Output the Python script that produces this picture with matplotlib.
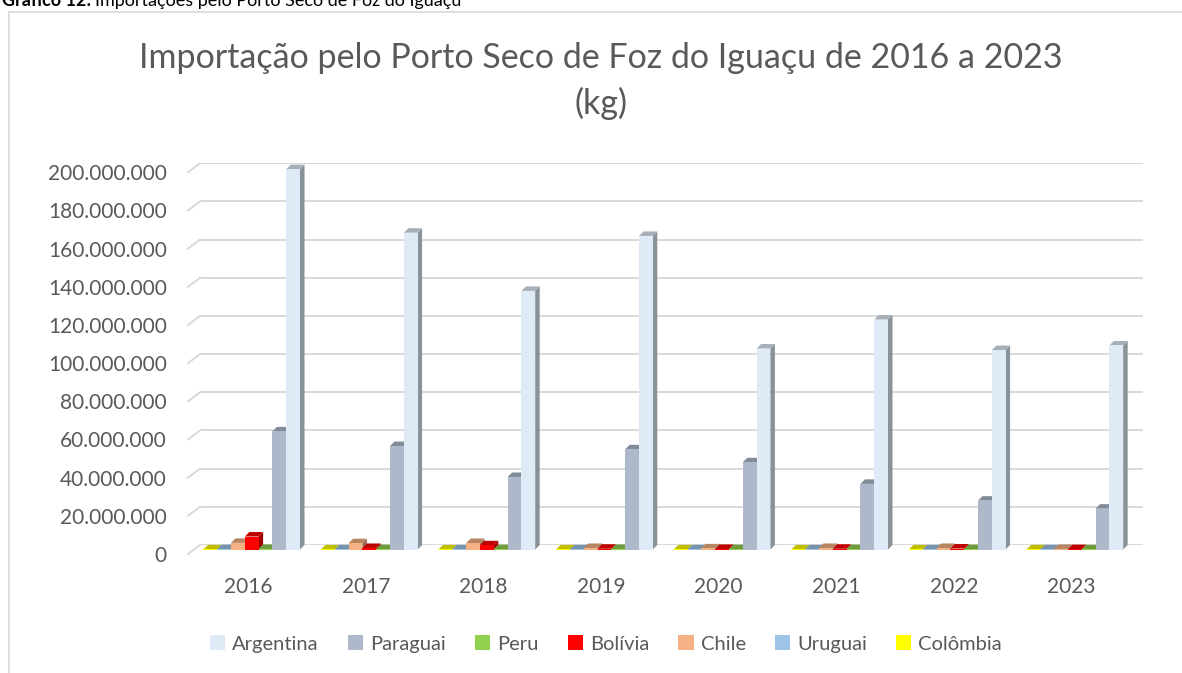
import numpy as np
import matplotlib
matplotlib.use("Agg")
import matplotlib.pyplot as plt
from matplotlib.patches import Patch, Rectangle
from matplotlib.ticker import FuncFormatter
from matplotlib.transforms import ScaledTranslation

plt.rcParams['font.family'] = ['Lato', 'DejaVu Sans']

# Data (kg)
anos = ['2016', '2017', '2018', '2019', '2020', '2021', '2022', '2023']
argentina = [199.3e6, 166.0e6, 135.5e6, 164.3e6, 105.3e6, 120.5e6, 104.5e6, 106.9e6]
paraguai = [61.9e6, 54.2e6, 38.0e6, 52.5e6, 45.7e6, 34.4e6, 25.6e6, 21.4e6]
peru = [0.3e6, 0.2e6, 0.2e6, 0.3e6, 0.2e6, 0.2e6, 0.2e6, 0.1e6]
bolivia = [6.8e6, 0.8e6, 2.2e6, 0.4e6, 0.3e6, 0.4e6, 0.5e6, 0.2e6]
chile = [3.5e6, 3.3e6, 3.4e6, 0.8e6, 0.6e6, 0.8e6, 0.8e6, 0.3e6]
uruguai = [0.2e6, 0.1e6, 0.1e6, 0.1e6, 0.1e6, 0.1e6, 0.1e6, 0.1e6]
colombia = [0.05e6] * 8

legenda = ['Argentina', 'Paraguai', 'Peru', 'Bolívia', 'Chile', 'Uruguai', 'Colômbia']
series = [argentina, paraguai, peru, bolivia, chile, uruguai, colombia]
cores = ['#DEEBF7', '#ADB9CA', '#92D050', '#FF0000', '#F4B183', '#9DC3E6', '#FFFF00']

# order of bars inside a group, left to right
ordem = [6, 5, 4, 3, 2, 1, 0]

W, H = 1182, 673
fig = plt.figure(figsize=(W / 100, H / 100), dpi=100)
fig.patch.set_facecolor('white')

# outer frame of the chart (runs past the right and bottom edges)
fig.add_artist(Rectangle((9 / W, -0.2), 1.2, 1.2 - 12 / H, transform=fig.transFigure,
                         fill=False, edgecolor='#D9D9D9', linewidth=1.2))

# partially cut caption at the very top
cap1 = fig.text(2 / W, 1 - 6 / H, 'Gráfico 12:', fontsize=13, fontweight='bold',
                color='black', ha='left', va='baseline')
fig.canvas.draw()
bb = cap1.get_window_extent()
fig.text((bb.x1 + 4) / W, 1 - 6 / H, 'Importações pelo Porto Seco de Foz do Iguaçu',
         fontsize=13, color='black', ha='left', va='baseline')

ax = fig.add_axes([200 / W, (H - 545) / H, 943 / W, 381.7 / H])
ax.set_xlim(-0.411, 7.608)
ax.set_ylim(0, 200e6)

grid = '#D9D9D9'
texto = '#595959'

# pixel -> data conversion for the pseudo 3D depth
px_x = (7.608 + 0.411) / 943
px_y = 200e6 / 381.7
dx, dy = 4.5 * px_x, 4.5 * px_y
sdx, sdy = 12 * px_x, 9 * px_y

yt = np.arange(0, 200e6 + 1, 20e6)
ax.set_yticks(yt)
for v in yt:
    ax.plot([-0.411, 7.608], [v, v], color=grid, lw=1.4, zorder=0)
    ax.plot([-0.411 - sdx, -0.411], [v - sdy, v], color=grid, lw=1.4, zorder=0, clip_on=False)

w = 13.8 / 117.6
off = 0.067
x = np.arange(len(anos))


def sombra(c, f):
    rgb = np.array(matplotlib.colors.to_rgb(c)) * f
    return tuple(np.clip(rgb, 0, 1))


for pos, k in enumerate(ordem):
    vals = np.array(series[k])
    c = cores[k]
    x0 = x + off + (pos - 3.5) * w
    for xi, v in zip(x0, vals):
        ax.fill([xi + w - dx, xi + w, xi + w, xi + w - dx],
                [-dy, 0, v, v - dy], color=sombra(c, 0.62), lw=0, clip_on=False, zorder=2)
        ax.fill([xi - dx, xi, xi + w, xi + w - dx],
                [v - dy, v, v, v - dy], color=sombra(c, 0.75), lw=0, clip_on=False, zorder=2)
    ax.bar(x0 - dx, vals, width=w, bottom=-dy, align='edge', color=c, lw=0,
           clip_on=False, zorder=2)

ax.set_xticks(x)
ax.set_xticklabels(anos)
ax.yaxis.set_major_formatter(FuncFormatter(lambda v, p: f'{v:,.0f}'.replace(',', '.')))
ax.tick_params(axis='both', length=0, labelsize=15, colors=texto)
ax.tick_params(axis='y', pad=24)
ax.tick_params(axis='x', pad=23)
for lab in ax.get_yticklabels():
    lab.set_transform(lab.get_transform() + ScaledTranslation(0, -9 / 100, fig.dpi_scale_trans))
for s in ax.spines.values():
    s.set_visible(False)
ax.set_facecolor('none')

fig.text(601 / W, 1 - 81 / H,
         'Importação pelo Porto Seco de Foz do Iguaçu de 2016 a 2023\n(kg)',
         ha='center', va='center', fontsize=24.5, color=texto, linespacing=1.45)

handles = [Patch(facecolor=c, edgecolor='none') for c in cores]
fig.legend(handles, legenda, loc='center', bbox_to_anchor=(606 / W, 1 - 644 / H), ncol=7,
           frameon=False, fontsize=14.5, handlelength=0.75, handleheight=0.75,
           handletextpad=0.35, columnspacing=1.45, labelcolor=texto)

fig.savefig('out.png', dpi=100)
